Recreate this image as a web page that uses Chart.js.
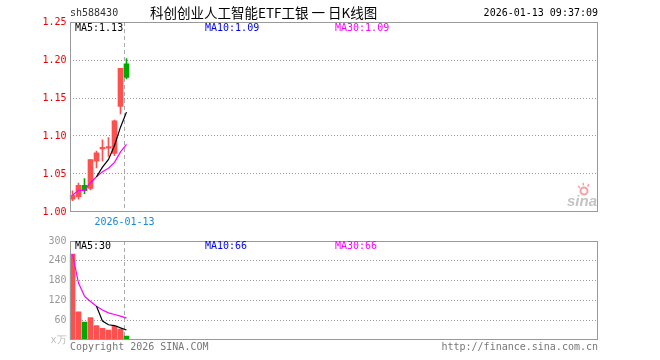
<!DOCTYPE html>
<html>
<head>
<meta charset="utf-8">
<script src="https://cdn.jsdelivr.net/npm/chart.js@4.4.1/dist/chart.umd.min.js"></script>
<style>
    html, body { margin: 0; padding: 0; background: #fff; }
    #wrap { position: relative; width: 660px; height: 360px; overflow: hidden; }
    #wrap canvas { position: absolute; left: 0; }
    #priceCanvas { top: 0; }
    #volCanvas { top: 232px; }
</style>
</head>
<body>
<div id="wrap">
    <canvas id="priceCanvas" width="660" height="232"></canvas>
    <canvas id="volCanvas" width="660" height="128"></canvas>
</div>
<script>
// Dados do gráfico
const stockCode = 'sh588430';
const chartTitle = '科创创业人工智能ETF工银 一 日K线图';
const timeStamp = '2026-01-13 09:37:09';
const dates = ['2025-12-29', '2025-12-30', '2025-12-31', '2026-01-05', '2026-01-06',
               '2026-01-07', '2026-01-08', '2026-01-09', '2026-01-12', '2026-01-13'];
const openP  = [1.017, 1.020, 1.035, 1.031, 1.067, 1.083, 1.084, 1.077, 1.139, 1.195];
const closeP = [1.022, 1.035, 1.028, 1.069, 1.078, 1.085, 1.086, 1.120, 1.189, 1.177];
const highP  = [1.028, 1.038, 1.044, 1.069, 1.080, 1.095, 1.098, 1.121, 1.189, 1.202];
const lowP   = [1.015, 1.017, 1.024, 1.029, 1.058, 1.067, 1.073, 1.074, 1.129, 1.175];
const volume = [260, 85, 54, 68, 44, 35, 30, 42, 33, 12];
const priceAxis = [1.00, 1.25, 0.05];   // min, max, passo
const volAxis = [0, 300, 60];
const volUnit = 'x万';
const dateMark = '2026-01-13';
const copyrightText = 'Copyright 2026 SINA.COM';
const siteText = 'http://finance.sina.com.cn';

// Layout
const slotCount = 88;
const MONO = '10px "DejaVu Sans Mono", monospace';
const UP = '#ff5050', DOWN = '#00a800';
const C_MA5 = '#000000', C_MA10 = '#0000ff', C_MA30 = '#ff00ff';

const labels = dates.concat(new Array(slotCount - dates.length).fill(''));
const isUp = closeP.map((c, i) => c >= openP[i]);
const candleColors = isUp.map(u => u ? UP : DOWN);

function avg(a) { return a.reduce((s, v) => s + v, 0) / a.length; }
// média móvel só com janela completa
function movingAvg(arr, n) {
    return arr.map((v, i) => i < n - 1 ? null : avg(arr.slice(i - n + 1, i + 1)));
}
// média com os dados disponíveis (quando ainda não há n pontos)
function partialAvg(arr, n) {
    return arr.map((v, i) => avg(arr.slice(Math.max(0, i - n + 1), i + 1)));
}

const pMA5 = movingAvg(closeP, 5), pMA10 = movingAvg(closeP, 10), pMA30 = partialAvg(closeP, 30);
const vMA5 = movingAvg(volume, 5), vMA10 = movingAvg(volume, 10), vMA30 = partialAvg(volume, 30);
const last = a => a[a.length - 1];

function lineSet(data, color) {
    return { type: 'line', data: data, borderColor: color, borderWidth: 1.2, pointRadius: 0,
             tension: 0, fill: false, spanGaps: false, order: 0 };
}

function markerX(x) {
    const i = dates.indexOf(dateMark);
    return Math.round((x.getPixelForValue(i - 1) + x.getPixelForValue(i)) / 2) + 0.5;
}

function drawText(ctx, txt, x, y, color, font, align) {
    ctx.font = font;
    ctx.fillStyle = color;
    ctx.textAlign = align || 'left';
    ctx.textBaseline = 'middle';
    ctx.fillText(txt, x, y);
}

// Linha tracejada vertical (antes das barras) e moldura (depois)
const framePlugin = {
    id: 'framePlugin',
    beforeDatasetsDraw(chart) {
        const { ctx, chartArea: a, scales: { x } } = chart;
        const mx = markerX(x);
        ctx.save();
        ctx.strokeStyle = '#aaaaaa';
        ctx.lineWidth = 1;
        ctx.setLineDash([4, 3]);
        ctx.beginPath();
        ctx.moveTo(mx, a.top);
        ctx.lineTo(mx, a.bottom);
        ctx.stroke();
        ctx.restore();
    },
    afterDraw(chart) {
        const { ctx, chartArea: a } = chart;
        ctx.save();
        ctx.strokeStyle = '#999999';
        ctx.lineWidth = 1;
        const l = Math.round(a.left) + 0.5, t = Math.round(a.top) + 0.5;
        const r = Math.floor(a.right) + 0.5, b = Math.round(a.bottom) - 0.5;
        ctx.strokeRect(l, t, r - l, b - t);
        ctx.restore();
    }
};

function gridColor(min, max) {
    return c => (Math.abs(c.tick.value - min) < 1e-6 || Math.abs(c.tick.value - max) < 1e-6)
        ? 'rgba(0,0,0,0)' : '#999999';
}

// Gráfico de candles
const priceTexts = {
    id: 'priceTexts',
    afterDraw(chart) {
        const { ctx, chartArea: a, scales: { x } } = chart;
        ctx.save();
        drawText(ctx, stockCode, 70, 13, '#333333', MONO);
        drawText(ctx, chartTitle, 150, 13, '#000000', '13.5px "Noto Sans CJK SC", sans-serif');
        drawText(ctx, timeStamp, 598, 13, '#000000', MONO, 'right');
        drawText(ctx, 'MA5:' + last(pMA5).toFixed(2), 75, 28, C_MA5, MONO);
        drawText(ctx, 'MA10:' + last(pMA10).toFixed(2), 205, 28, C_MA10, MONO);
        drawText(ctx, 'MA30:' + last(pMA30).toFixed(2), 335, 28, C_MA30, MONO);
        drawText(ctx, dateMark, markerX(x), 222, '#1a88d8', MONO, 'center');
        // marca d'água sina
        ctx.strokeStyle = '#f2a2a2';
        ctx.lineWidth = 2;
        ctx.beginPath();
        ctx.arc(584, 191, 3.5, 0, Math.PI * 2);
        ctx.stroke();
        ctx.lineWidth = 1.5;
        ctx.beginPath();
        ctx.moveTo(578, 186); ctx.lineTo(580, 188);
        ctx.moveTo(583, 183); ctx.lineTo(583.5, 185.5);
        ctx.moveTo(589, 184); ctx.lineTo(587.5, 186.5);
        ctx.stroke();
        drawText(ctx, 'sina', 597, 202, '#c4c4c4', 'italic bold 15px "Liberation Sans", sans-serif', 'right');
        ctx.restore();
    }
};

new Chart(document.getElementById('priceCanvas'), {
    type: 'bar',
    data: {
        labels: labels,
        datasets: [
            { data: lowP.map((l, i) => [l, highP[i]]), backgroundColor: candleColors,
              barThickness: 1, grouped: false, borderWidth: 0, order: 2 },
            { data: openP.map((o, i) => [o, closeP[i]]), backgroundColor: candleColors,
              barThickness: 5, grouped: false, borderWidth: 0, minBarLength: 1, order: 1 },
            lineSet(pMA5, C_MA5),
            lineSet(pMA10, C_MA10),
            lineSet(pMA30, C_MA30)
        ]
    },
    options: {
        responsive: false,
        animation: false,
        events: [],
        layout: { padding: { left: 0, right: 62.5, top: 22, bottom: 20 } },
        plugins: { legend: { display: false }, tooltip: { enabled: false } },
        scales: {
            x: { display: false, offset: true, grid: { display: false } },
            y: {
                min: priceAxis[0], max: priceAxis[1],
                afterFit(s) { s.width = 69.5; },
                border: { display: false, dash: [1, 2] },
                grid: { drawTicks: false, color: gridColor(priceAxis[0], priceAxis[1]) },
                ticks: {
                    stepSize: priceAxis[2], padding: 3, color: '#ee0000',
                    font: { family: '"DejaVu Sans Mono", monospace', size: 10 },
                    callback: v => v.toFixed(2)
                }
            }
        }
    },
    plugins: [framePlugin, priceTexts]
});

// Gráfico de volume
const volTexts = {
    id: 'volTexts',
    afterDraw(chart) {
        const { ctx } = chart;
        ctx.save();
        drawText(ctx, 'MA5:' + Math.round(last(vMA5)), 75, 14, C_MA5, MONO);
        drawText(ctx, 'MA10:' + Math.round(last(vMA10)), 205, 14, C_MA10, MONO);
        drawText(ctx, 'MA30:' + Math.round(last(vMA30)), 335, 14, C_MA30, MONO);
        drawText(ctx, copyrightText, 70, 115, '#777777', MONO);
        drawText(ctx, siteText, 598, 115, '#777777', MONO, 'right');
        ctx.restore();
    }
};

new Chart(document.getElementById('volCanvas'), {
    type: 'bar',
    data: {
        labels: labels,
        datasets: [
            { data: volume, backgroundColor: candleColors, barThickness: 5,
              grouped: false, borderWidth: 0, order: 1 },
            lineSet(vMA5, C_MA5),
            lineSet(vMA10, C_MA10),
            lineSet(vMA30, C_MA30)
        ]
    },
    options: {
        responsive: false,
        animation: false,
        events: [],
        layout: { padding: { left: 0, right: 62.5, top: 8, bottom: 20 } },
        plugins: { legend: { display: false }, tooltip: { enabled: false } },
        scales: {
            x: { display: false, offset: true, grid: { display: false } },
            y: {
                min: volAxis[0], max: volAxis[1],
                afterFit(s) { s.width = 69.5; },
                border: { display: false, dash: [1, 2] },
                grid: { drawTicks: false, color: gridColor(volAxis[0], volAxis[1]) },
                ticks: {
                    stepSize: volAxis[2], padding: 3,
                    color: c => c.tick.value === 0 ? '#bbbbbb' : '#999999',
                    font: { family: '"DejaVu Sans Mono", monospace', size: 10 },
                    callback: v => v === 0 ? volUnit : v
                }
            }
        }
    },
    plugins: [framePlugin, volTexts]
});
</script>
</body>
</html>
